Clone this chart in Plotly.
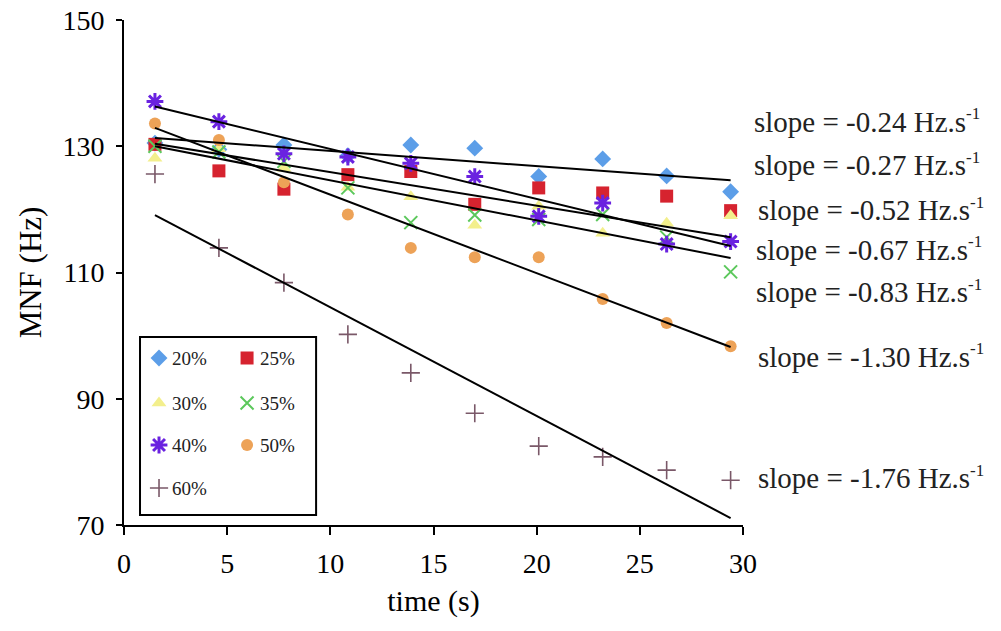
import plotly.graph_objects as go

# ---- data ----
time_s = [1.5, 4.6, 7.75, 10.85, 13.9, 17.0, 20.1, 23.2, 26.3, 29.4]
series_names = ["20%", "25%", "30%", "35%", "40%", "50%", "60%"]
mnf_20 = [130.5, 129.5, 130.2, 128.5, 130.2, 129.7, 125.2, 128.0, 125.3, 122.8]
mnf_25 = [130.3, 126.1, 123.2, 125.5, 126.0, 120.8, 123.4, 122.6, 122.1, 119.8]
mnf_30 = [128.1, 129.6, 126.5, 123.5, 122.0, 117.5, 120.5, 116.2, 117.8, 119.0]
mnf_35 = [130.0, 129.1, 127.6, 123.4, 117.9, 119.1, 118.4, 119.2, 115.6, 110.1]
mnf_40 = [137.1, 133.9, 128.8, 128.3, 127.3, 125.2, 118.9, 121.0, 114.5, 114.9]
mnf_50 = [133.6, 131.0, 124.3, 119.2, 113.9, 112.4, 112.4, 105.8, 102.0, 98.3]
mnf_60 = [125.6, 113.9, 108.4, 100.2, 94.1, 87.7, 82.5, 80.8, 78.7, 77.1]
all_series = [mnf_20, mnf_25, mnf_30, mnf_35, mnf_40, mnf_50, mnf_60]

# regression lines (value at first and last time)
fit_start = [131.3, 130.4, 130.0, 136.3, 132.9, 119.1]
fit_end = [124.6, 115.6, 112.3, 114.2, 98.2, 71.1]

slope_labels = ["-0.24", "-0.27", "-0.52", "-0.67", "-0.83", "-1.30", "-1.76"]

# ---- styles ----
colors = ["#5c9ee8", "#d6232f", "#f3ef8c", "#5cc85c", "#6a22e0", "#eda257", "#7a5868"]
symbols = ["diamond", "square", "triangle-up", "x-thin-open", "asterisk-open",
           "circle", "cross-thin-open"]
sizes = [13, 13, 13, 13, 14, 12, 13]
line_w = [0, 0, 0, 2, 3, 0, 1.6]
FONT = "Liberation Serif, Times New Roman, serif"

fig = go.Figure()
for name, ys, c, s, sz, lw in zip(series_names, all_series, colors, symbols, sizes, line_w):
    mk = dict(color=c, symbol=s, size=sz)
    if lw:
        mk["line"] = dict(color=c, width=lw)
    fig.add_trace(go.Scatter(x=time_s, y=ys, mode="markers", marker=mk,
                             name=name, showlegend=False, cliponaxis=False))

for y0, y1 in zip(fit_start, fit_end):
    fig.add_trace(go.Scatter(x=[time_s[0], time_s[-1]], y=[y0, y1], mode="lines",
                             line=dict(color="black", width=2), showlegend=False,
                             hoverinfo="skip"))

# ---- custom legend on a pixel-scaled overlay axis ----
PX_L, PX_R, PX_T, PX_B = 124, 742.7, 20, 525
leg_cols = [159, 247]
leg_rows = [358, 403, 445, 488]
for i, (name, c, s, sz, lw) in enumerate(zip(series_names, colors, symbols, sizes, line_w)):
    px = leg_cols[i % 2]
    py = leg_rows[i // 2]
    mk = dict(color=c, symbol=s, size=sz)
    if lw:
        mk["line"] = dict(color=c, width=lw)
    fig.add_trace(go.Scatter(x=[px], y=[py], mode="markers", marker=mk,
                             xaxis="x2", yaxis="y2", showlegend=False, hoverinfo="skip"))
    fig.add_annotation(x=px + 11, y=py, xref="x2", yref="y2", text=name,
                       showarrow=False, xanchor="left", yanchor="middle",
                       font=dict(family=FONT, size=19, color="#222"))
fig.add_shape(type="rect", xref="x2", yref="y2", x0=140, x1=316, y0=337, y1=515,
              line=dict(color="black", width=2), fillcolor="rgba(0,0,0,0)")

# ---- slope labels (paper coordinates; superscript drawn as its own small text) ----
label_right = [(968, 122), (968, 165), (972, 210), (970, 250), (970, 292), (972, 357), (972, 478)]
pw, ph = PX_R - PX_L, PX_B - PX_T
for lab, (rx, ly) in zip(slope_labels, label_right):
    xp, yp = (rx - PX_L) / pw, (PX_B - ly) / ph
    fig.add_annotation(x=xp, y=yp, xref="paper", yref="paper",
                       text=f"slope = {lab} Hz.s", showarrow=False,
                       xanchor="right", yanchor="middle",
                       font=dict(family=FONT, size=29, color="#222"))
    fig.add_annotation(x=xp, y=yp, xref="paper", yref="paper", text="-1",
                       showarrow=False, xanchor="left", yanchor="middle",
                       xshift=-4, yshift=8,
                       font=dict(family=FONT, size=17, color="#222"))

fig.update_layout(
    width=1001, height=631,
    margin=dict(l=PX_L, r=1001 - PX_R, t=PX_T, b=631 - PX_B, autoexpand=False),
    plot_bgcolor="white", paper_bgcolor="white",
    font=dict(family=FONT, size=28, color="black"),
    xaxis=dict(range=[0, 30], tickvals=[0, 5, 10, 15, 20, 25, 30], showline=True,
               linecolor="black", linewidth=2, ticks="outside", ticklen=8,
               tickwidth=2, tickcolor="black", showgrid=False, zeroline=False,
               tickfont=dict(family=FONT, size=28, color="black"),
               title=dict(text="time (s)", font=dict(family=FONT, size=30, color="black"),
                          standoff=12),
               ticklabelstandoff=4, automargin=False),
    yaxis=dict(range=[70, 150], tickvals=[70, 90, 110, 130, 150], showline=True,
               linecolor="black", linewidth=2, ticks="outside", ticklen=6,
               tickwidth=2, tickcolor="black", showgrid=False, zeroline=False,
               tickfont=dict(family=FONT, size=28, color="black"),
               title=dict(text="MNF (Hz)", font=dict(family=FONT, size=31, color="black"),
                          standoff=12),
               ticklabelstandoff=6, automargin=False),
    xaxis2=dict(overlaying="x", range=[PX_L, PX_R], visible=False, fixedrange=True),
    yaxis2=dict(overlaying="y", range=[PX_B, PX_T], visible=False, fixedrange=True),
    showlegend=False,
)

fig.write_html("out.html", config={"displayModeBar": False},
               post_script="document.body.style.margin='0';")
